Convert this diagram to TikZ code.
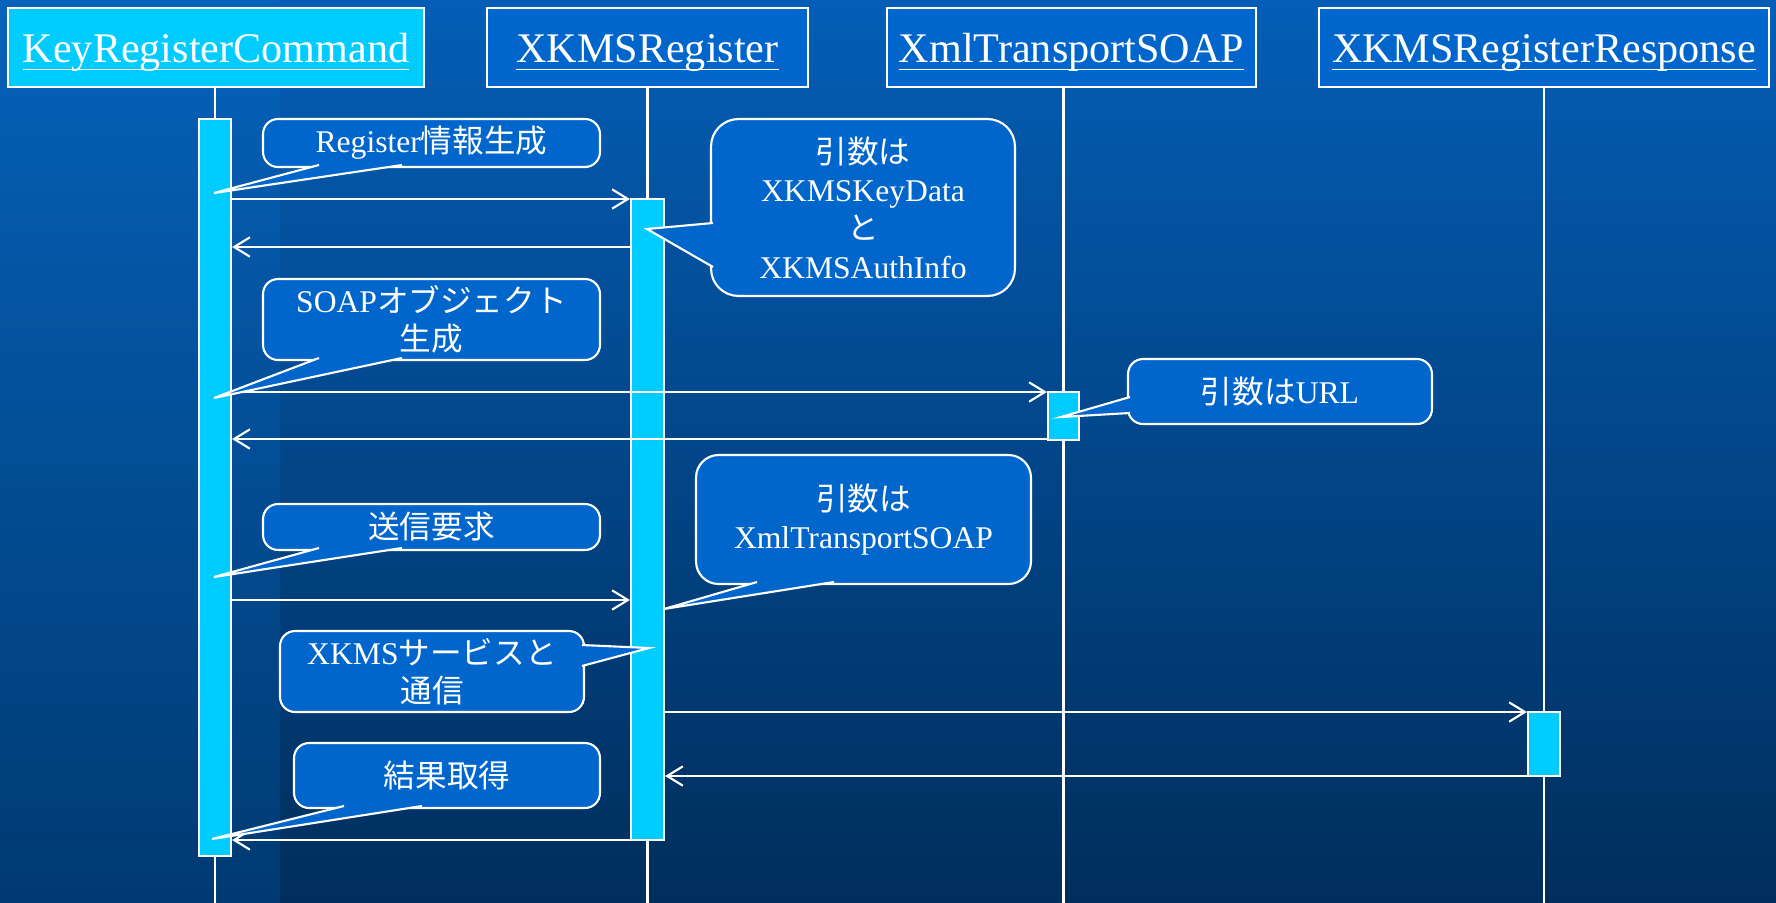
\documentclass[tikz,border=0pt]{standalone}
\usepackage{fontspec}
\setmainfont{Liberation Serif}
\newfontfamily\jp{Noto Sans CJK JP}
\usetikzlibrary{arrows.meta}

\newlength{\ulwd}
\newcommand{\headline}[1]{\settowidth{\ulwd}{#1}\rlap{\rule[-4.2pt]{\ulwd}{1pt}}#1}

\definecolor{bgtop}{RGB}{4,94,182}
\definecolor{bgbottom}{RGB}{0,46,92}
\definecolor{striptop}{RGB}{6,98,186}
\definecolor{stripbottom}{RGB}{0,58,114}
\definecolor{boxblue}{RGB}{0,102,204}
\definecolor{barcyan}{RGB}{0,204,255}

\tikzset{
  head/.style={draw=white, line width=1.2pt, fill=boxblue, text=white, font=\fontsize{24}{28}\selectfont, minimum height=1.58cm, inner sep=0pt, text height=20pt, text depth=2.4pt},
  actbar/.style={draw=white, line width=1.2pt, fill=barcyan, inner sep=0pt},
  life/.style={draw=white, line width=1.2pt},
  msg/.style={draw=white, line width=1.2pt, -{Straight Barb[length=9pt,width=11pt]}},
  callbox/.style={draw=white, line width=1.2pt, fill=boxblue, text=white, align=center, font=\fontsize{18}{21.8}\selectfont, inner sep=0pt, rounded corners=#1},
  callbox/.default=0.3cm,
  wedge/.style={fill=boxblue},
  wedgeline/.style={draw=white, line width=1.2pt},
}

\begin{document}
\begin{tikzpicture}[x=0.02cm, y=-0.02cm]
\useasboundingbox (0,0) rectangle (1776,903);
\shade[top color=bgtop, bottom color=bgbottom] (0,0) rectangle (1776,903);
\shade[top color=striptop, bottom color=stripbottom] (0,0) rectangle (280,903);

% lifeline positions
\coordinate (lkrc) at (215,0);
\coordinate (lreg) at (647.5,0);
\coordinate (lxts) at (1063.5,0);
\coordinate (lresp) at (1544,0);

% objects
\node[head, fill=barcyan, minimum width=8.32cm] (krc) at (216,47.5) {\headline{KeyRegisterCommand}};
\node[head, minimum width=6.42cm] (reg) at (647.5,47.5) {\headline{XKMSRegister}};
\node[head, minimum width=7.38cm] (xts) at (1071.5,47.5) {\headline{XmlTransportSOAP}};
\node[head, minimum width=9cm] (resp) at (1544,47.5) {\headline{XKMSRegisterResponse}};

\draw[life] (lkrc |- krc.south) -- (lkrc |- 0,903);
\draw[life] (lreg |- reg.south) -- (lreg |- 0,903);
\draw[life] (lxts |- xts.south) -- (lxts |- 0,903);
\draw[life] (lresp |- resp.south) -- (lresp |- 0,903);

% activations
\node[actbar, minimum width=0.64cm, minimum height=14.74cm] (krcbar) at (lkrc |- 0,487.5) {};
\node[actbar, minimum width=0.66cm, minimum height=12.82cm] (regbar) at (lreg |- 0,519.5) {};
\node[actbar, minimum width=0.62cm, minimum height=0.96cm] (xtsbar) at (lxts |- 0,416) {};
\node[actbar, minimum width=0.64cm, minimum height=1.28cm] (respbar) at (lresp |- 0,744) {};

% messages
\draw[msg] (krcbar.east |- 0,199) -- (regbar.west |- 0,199);
\draw[msg] (regbar.west |- 0,247) -- (krcbar.east |- 0,247);
\draw[msg] (krcbar.east |- 0,392) -- (xtsbar.west |- 0,392);
\draw[msg] (xtsbar.west |- 0,439) -- (krcbar.east |- 0,439);
\draw[msg] (krcbar.east |- 0,600) -- (regbar.west |- 0,600);
\draw[msg] (regbar.east |- 0,712) -- (respbar.west |- 0,712);
\draw[msg] (respbar.west |- 0,776) -- (regbar.east |- 0,776);
\draw[msg] (regbar.west |- 0,840) -- (krcbar.east |- 0,840);

% notes
\node[callbox, minimum width=6.74cm, minimum height=0.96cm] (n1) at (431.5,143) {Register{\jp 情報生成}};
\fill[wedge] (319,165) -- (214,193) -- (402,165) -- cycle;
\draw[wedgeline] (319,165) -- (214,193) -- (402,165);

\node[callbox=0.55cm, minimum width=6.08cm, minimum height=3.54cm] (n2) at (863,207.5) {{\jp 引数は}\\XKMSKeyData\\{\jp と}\\XKMSAuthInfo};
\fill[wedge] (713,223) -- (647,229) -- (713,267) -- cycle;
\draw[wedgeline] (713,223) -- (647,229) -- (713,267);

\node[callbox, minimum width=6.74cm, minimum height=1.62cm] (n3) at (431.5,319.5) {SOAP{\jp オブジェクト}\\{\jp 生成}};
\fill[wedge] (319,358) -- (214,398) -- (402,358) -- cycle;
\draw[wedgeline] (319,358) -- (214,398) -- (402,358);

\node[callbox, minimum width=6.08cm, minimum height=1.3cm] (n4) at (1280,391.5) {{\jp 引数は}URL};
\fill[wedge] (1130,397) -- (1061,417) -- (1130,413) -- cycle;
\draw[wedgeline] (1130,397) -- (1061,417) -- (1130,413);

\node[callbox, minimum width=6.74cm, minimum height=0.92cm] (n5) at (431.5,527) {\jp 送信要求};
\fill[wedge] (319,548) -- (214,577) -- (402,548) -- cycle;
\draw[wedgeline] (319,548) -- (214,577) -- (402,548);

\node[callbox=0.45cm, minimum width=6.7cm, minimum height=2.58cm] (n6) at (863.5,519.5) {{\jp 引数は}\\XmlTransportSOAP};
\fill[wedge] (757,582) -- (664,609) -- (834,582) -- cycle;
\draw[wedgeline] (757,582) -- (664,609) -- (834,582);

\node[callbox, minimum width=6.08cm, minimum height=1.62cm] (n7) at (432,671.5) {XKMS{\jp サービスと}\\{\jp 通信}};
\fill[wedge] (582,645) -- (649,648) -- (582,666) -- cycle;
\draw[wedgeline] (582,645) -- (649,648) -- (582,666);

\node[callbox, minimum width=6.12cm, minimum height=1.3cm] (n8) at (447,775.5) {\jp 結果取得};
\fill[wedge] (344,806) -- (212,839) -- (422,806) -- cycle;
\draw[wedgeline] (344,806) -- (212,839) -- (422,806);
\end{tikzpicture}
\end{document}
